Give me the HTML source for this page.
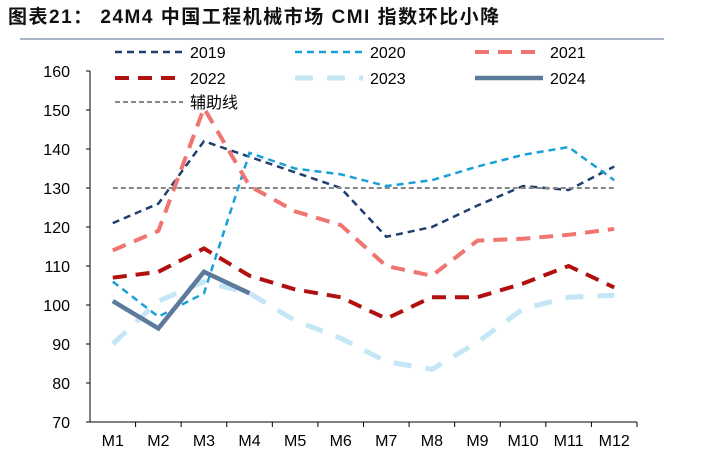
<!DOCTYPE html>
<html><head><meta charset="utf-8"><style>
body{margin:0;background:#fff;}
svg text{font-family:"Liberation Sans","Noto Sans CJK SC",sans-serif;}
</style></head><body>
<svg id="chart" width="701" height="466" viewBox="0 0 701 466" xmlns="http://www.w3.org/2000/svg">
<text x="8" y="23" font-size="19" font-weight="bold" letter-spacing="1.5" fill="#111">图表21：  24M4 中国工程机械市场 CMI 指数环比小降</text>
<line x1="20" y1="39" x2="664" y2="39" stroke="#8a9bb3" stroke-width="1.5"/>
<g id="axes"></g><g id="series"></g><g id="legend"></g>
</svg>
<script>
const categories=["M1","M2","M3","M4","M5","M6","M7","M8","M9","M10","M11","M12"];
const yTicks=[70,80,90,100,110,120,130,140,150,160];
const s2019=[121,126,142,138,134,130,117.5,120,125.5,130.5,129.5,135.5];
const s2020=[106,97,103,139,135,133.5,130.5,132,135.5,138.5,140.5,132];
const s2021=[114,119,150.5,130.5,124,120.5,110,107.5,116.5,117,118,119.5];
const s2022=[107,108.5,114.5,107.5,104,102,96.5,102,102,105.5,110,104.5];
const s2023=[90,101,106,103,96,91.5,85.5,83.5,90.5,99,102,102.5];
const s2024=[101,94,108.5,103];
const aux=[130,130,130,130,130,130,130,130,130,130,130,130];
const NS="http://www.w3.org/2000/svg";
const x0=90,x1=637,yTop=71,yBot=422;
const xs=i=>x0+(x1-x0)/categories.length*(i+0.5);
const ys=v=>yBot-(v-70)/(90)*(yBot-yTop);
function mk(t,a,p){const e=document.createElementNS(NS,t);for(const k in a)e.setAttribute(k,a[k]);p.appendChild(e);return e;}
const ax=document.getElementById('axes');
let yl=mk('line',{x1:x0,y1:yTop,x2:x0,y2:yBot,stroke:'#000'},ax);


let xl=mk('line',{x1:x0,y1:yBot,x2:x1,y2:yBot,stroke:'#000'},ax);


yTicks.forEach(v=>{
 mk('line',{x1:x0-4,y1:ys(v),x2:x0,y2:ys(v),stroke:'#000'},ax);
 const t=mk('text',{x:x0-20,y:ys(v)+6,'font-size':16,'text-anchor':'end',fill:'#000'},ax);t.textContent=v;
 
 
});
categories.forEach((c,i)=>{
 const xe=x0+(x1-x0)/categories.length*(i+1);
 mk('line',{x1:xe,y1:yBot,x2:xe,y2:yBot+5,stroke:'#000'},ax);
 const t=mk('text',{x:xs(i),y:yBot+24,'font-size':16,'text-anchor':'middle',fill:'#000'},ax);t.textContent=c;
 
 
});
const defs=[
 {n:'2019',d:s2019,c:'#1f3f6e',w:2.5,da:'7,5'},
 {n:'2020',d:s2020,c:'#1aa0d8',w:2.5,da:'7,5'},
 {n:'2021',d:s2021,c:'#f07470',w:4,da:'14,9'},
 {n:'2022',d:s2022,c:'#b01010',w:4,da:'14,9'},
 {n:'2023',d:s2023,c:'#c5e6f5',w:5,da:'18,14'},
 {n:'2024',d:s2024,c:'#5b7a9c',w:4.5,da:''},
 {n:'辅助线',d:aux,c:'#888888',w:2,da:'5,3'}];
const sg=document.getElementById('series');
defs.forEach(s=>{
 const p=mk('polyline',{points:s.d.map((v,i)=>xs(i)+','+ys(v)).join(' '),fill:'none',stroke:s.c,'stroke-width':s.w,'stroke-dasharray':s.da},sg);
 
 
});
const lg=document.getElementById('legend');
const pos=[[115,52],[295,52],[475,52],[115,78],[295,78],[475,78],[115,102]];
defs.forEach((s,i)=>{
 const [lx,ly]=pos[i];
 const g=mk('g',{},lg);
 
 
 mk('line',{x1:lx,y1:ly,x2:lx+68,y2:ly,stroke:s.c,'stroke-width':s.w,'stroke-dasharray':s.da},g);
 const t=mk('text',{x:lx+75,y:ly+6,'font-size':16,fill:'#000'},g);t.textContent=s.n;
});
</script>
</body></html>
